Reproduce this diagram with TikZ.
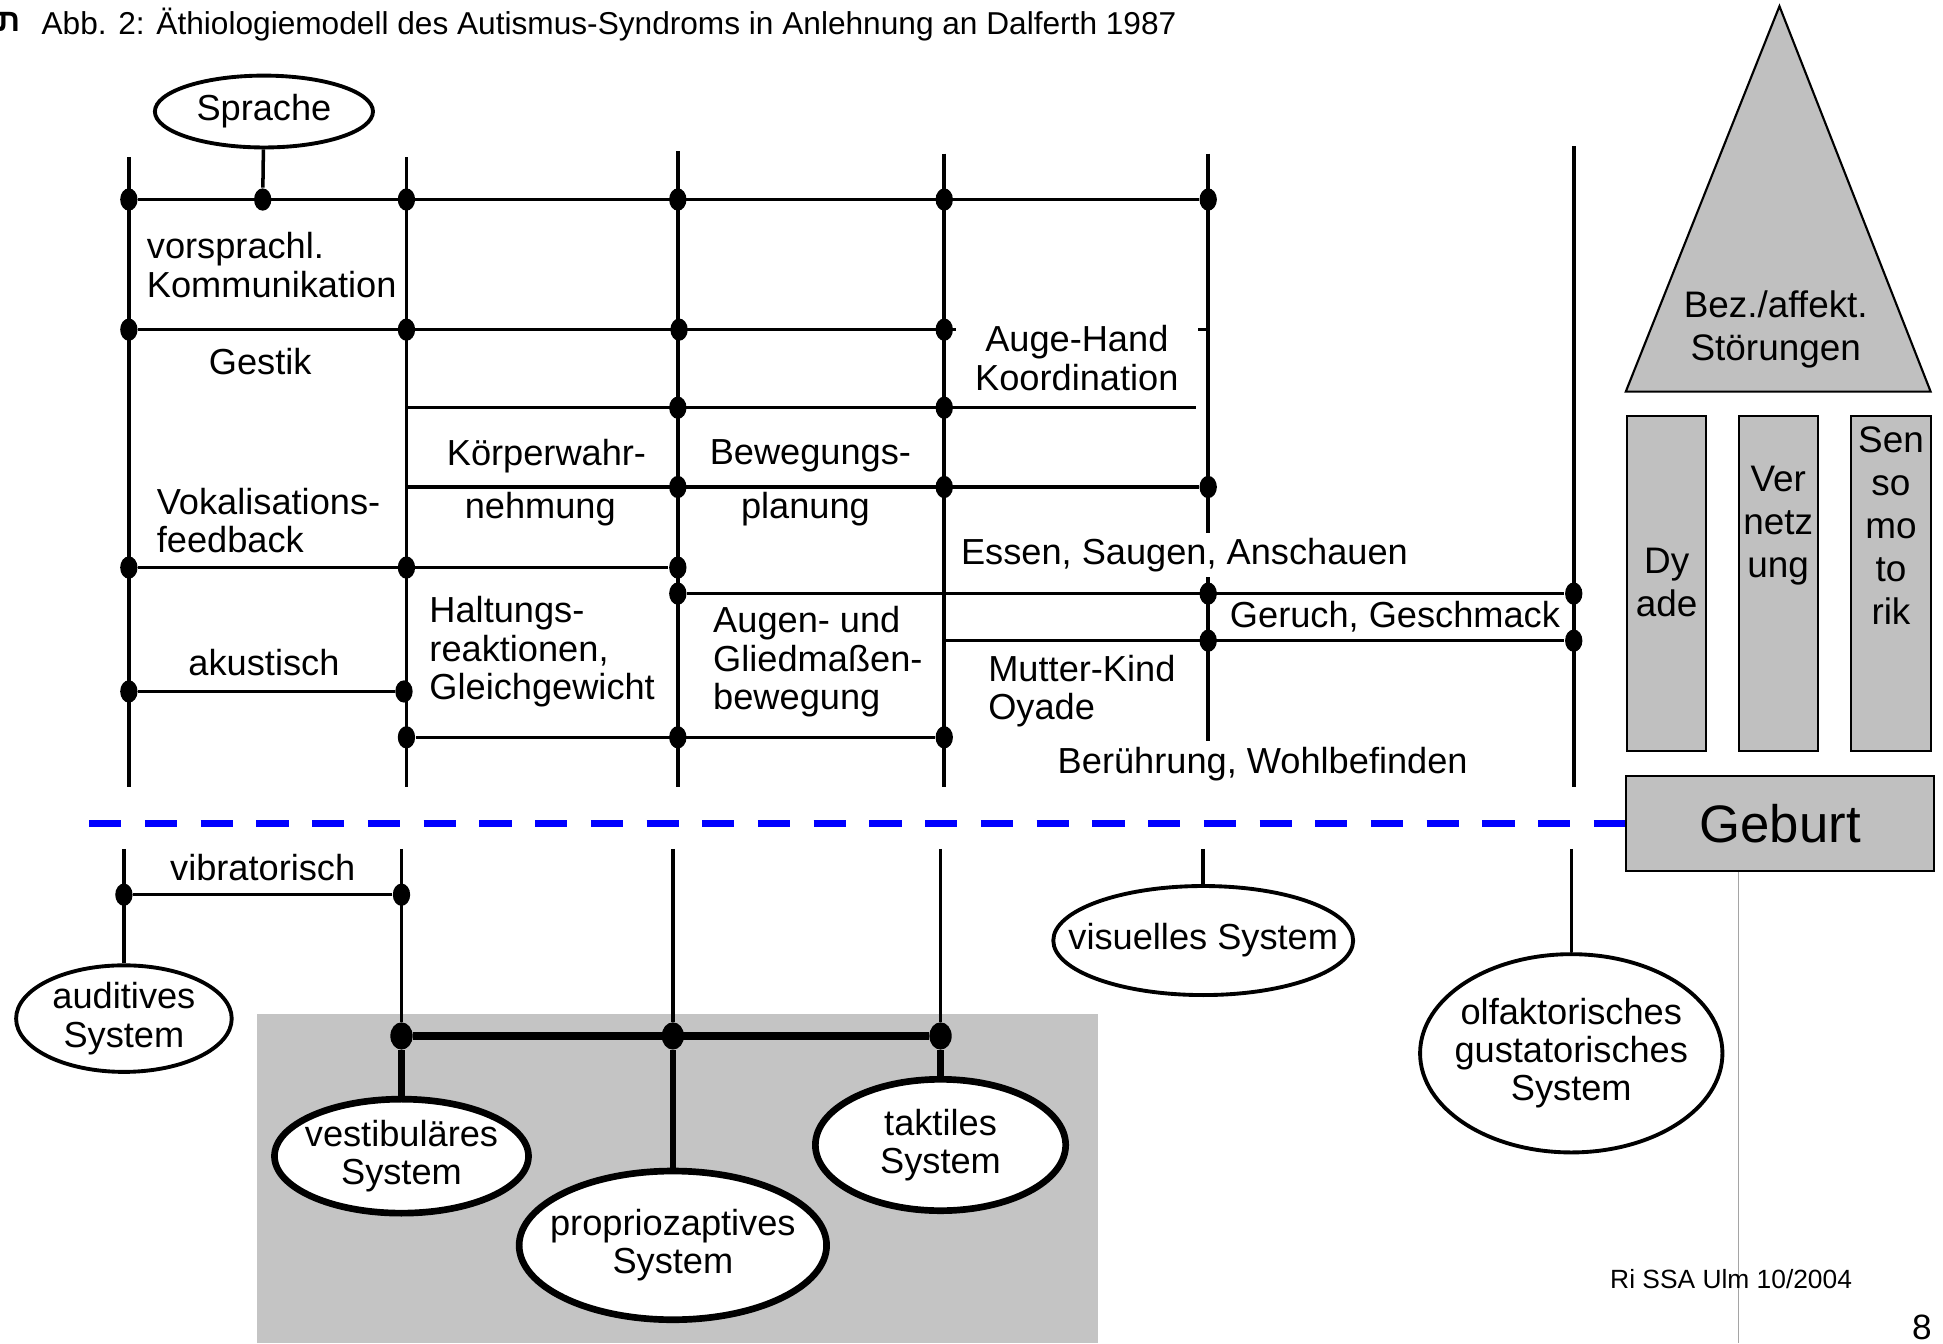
\documentclass[tikz,border=0pt]{standalone}
\usepackage{fontspec}
\setmainfont{Liberation Sans}
\usetikzlibrary{shapes.geometric, positioning}

\newcommand{\unitpx}{0.012392cm}
\newcommand{\scanfont}{\fontsize{10.3}{10.9}\selectfont}
\newcommand{\slidefont}{\fontsize{10.5}{12.2}\selectfont}

\definecolor{housegray}{RGB}{192,192,192}
\definecolor{slideblue}{RGB}{0,0,255}
\definecolor{screengray}{RGB}{196,196,196}
\definecolor{slideline}{RGB}{165,165,165}

\begin{document}
\begin{tikzpicture}[
    x=0.012392cm, y=-0.012392cm,
    % Stile
    strand/.style={line width=1pt},
    trunk/.style={line width=2.2pt},
    junction/.style={
        ellipse,
        fill,
        inner sep=0pt,
        minimum width=14*\unitpx,
        minimum height=18*\unitpx
    },
    sys/.style={
        ellipse,
        draw,
        fill=white,
        line width=1.1pt,
        inner xsep=-4pt,
        inner ysep=-2pt,
        align=center,
        font=\scanfont
    },
    bigsys/.style={sys, line width=1.9pt},
    cell/.style={inner sep=0pt, align=left, font=\scanfont},
    pillar/.style={
        draw,
        fill=housegray,
        line width=0.6pt,
        minimum width=64*\unitpx,
        minimum height=270*\unitpx,
        inner sep=0pt
    },
    slidetext/.style={inner sep=0pt, align=center, font=\slidefont},
    birth/.style={draw=slideblue, line width=2.2pt, dash pattern=on 0.3222cm off 0.235cm}
]
    \useasboundingbox (0,0) rectangle (1568,1084);

    % --- 0. Kopfzeile ---
    \node[inner sep=0pt, font=\bfseries\fontsize{9}{11}\selectfont] (mark) at (7,18) {ת};
    \node[anchor=west, inner sep=0pt, font=\fontsize{9}{11}\selectfont] (title) at (33,20)
        {Abb. 2: Äthiologiemodell des Autismus-Syndroms in Anlehnung an Dalferth 1987};

    % --- 1. Rasterfläche unten ---
    \fill[screengray] (207,818) rectangle (886,1084);

    % --- 2. Knotenpunkte oberhalb der Geburt ---
    \node[junction] (a1) at (104,161) {};
    \node[junction] (s1) at (212,161) {};
    \node[junction] (b1) at (328,161) {};
    \node[junction] (c1) at (547,161) {};
    \node[junction] (d1) at (762,161) {};
    \node[junction] (e1) at (975,161) {};

    \node[junction] (a2) at (104,266) {};
    \node[junction] (b2) at (328,266) {};
    \node[junction] (c2) at (548,266) {};
    \node[junction] (d2) at (762,266) {};

    \node[junction] (c3) at (547,329) {};
    \node[junction] (d3) at (762,329) {};

    \node[junction] (c4) at (547,393) {};
    \node[junction] (d4) at (762,393) {};
    \node[junction] (e4) at (975,393) {};

    \node[junction] (a5) at (104,458) {};
    \node[junction] (b5) at (328,458) {};
    \node[junction] (c5) at (547,458) {};

    \node[junction] (c6) at (547,479) {};
    \node[junction] (e6) at (975,479) {};
    \node[junction] (f6) at (1270,479) {};

    \node[junction] (e7) at (975,517) {};
    \node[junction] (f7) at (1270,517) {};

    \node[junction] (a8) at (104,558) {};
    \node[junction] (b8) at (326,558) {};

    \node[junction] (b9) at (328,595) {};
    \node[junction] (c9) at (547,595) {};
    \node[junction] (d9) at (762,595) {};

    % freie Linienenden
    \coordinate (ta) at (104,127);  \coordinate (ba) at (104,635);
    \coordinate (tb) at (328,127);  \coordinate (bb) at (328,635);
    \coordinate (tc) at (547,122);  \coordinate (bc) at (547,635);
    \coordinate (td) at (762,124);  \coordinate (bd) at (762,635);
    \coordinate (te) at (975,124);  \coordinate (be) at (975,598);
    \coordinate (tf) at (1270,118); \coordinate (bf) at (1270,635);
    \coordinate (e2) at (975,266);
    \coordinate (b3) at (328,329);  \coordinate (e3) at (965,329);
    \coordinate (b4) at (328,393);
    \coordinate (d7) at (762,517);

    % --- 3. Knotenpunkte unterhalb der Geburt ---
    \node[junction] (a10) at (100,722) {};
    \node[junction] (b10) at (324,722) {};
    \node[junction, minimum width=18*\unitpx, minimum height=22*\unitpx] (b11) at (324,836) {};
    \node[junction, minimum width=18*\unitpx, minimum height=22*\unitpx] (c11) at (543,836) {};
    \node[junction, minimum width=18*\unitpx, minimum height=22*\unitpx] (d11) at (759,836) {};

    \coordinate (la) at (100,685);
    \coordinate (lb) at (324,685);
    \coordinate (lc) at (543,685);
    \coordinate (ld) at (759,685);
    \coordinate (le) at (971,685);
    \coordinate (lf) at (1268,685);

    % --- 4. Systeme (Ellipsen) ---
    \node[sys, minimum width=176*\unitpx, minimum height=58*\unitpx] (sprache) at (213,90) {Sprache};
    \node[sys, minimum width=174*\unitpx, minimum height=86*\unitpx] (auditiv) at (100,822) {auditives\\System};
    \node[bigsys, minimum width=205*\unitpx, minimum height=92*\unitpx] (vestib) at (324,933) {vestibuläres\\System};
    \node[bigsys, minimum width=245*\unitpx, minimum height=120*\unitpx] (proprio) at (543,1005) {propriozaptives\\System};
    \node[bigsys, minimum width=202*\unitpx, minimum height=106*\unitpx] (taktil) at (759,924) {taktiles\\System};
    \node[sys, inner xsep=-8.5pt, minimum width=242*\unitpx, minimum height=88*\unitpx] (visuell) at (971,759) {visuelles System};
    \node[sys, minimum width=244*\unitpx, minimum height=160*\unitpx] (olfakt) at (1268,850) {olfaktorisches\\gustatorisches\\System};

    % --- 5. Linien ---
    % senkrecht oben
    \draw[strand] (ta) -- (ba);
    \draw[strand] (tb) -- (bb);
    \draw[strand] (tc) -- (bc);
    \draw[strand] (td) -- (bd);
    \draw[strand] (te) -- (be);
    \draw[strand] (tf) -- (bf);
    % waagerecht oben
    \draw[strand] (sprache) -- (s1);
    \draw[strand] (a1) -- (e1);
    \draw[strand] (a2) -- (e2);
    \draw[strand] (b3) -- (e3);
    \draw[strand] (b4) -- (e4);
    \draw[strand] (a5) -- (c5);
    \draw[strand] (c6) -- (f6);
    \draw[strand] (d7) -- (f7);
    \draw[strand] (a8) -- (b8);
    \draw[strand] (b9) -- (d9);
    % unten
    \draw[strand] (la) -- (auditiv);
    \draw[strand] (a10) -- (b10);
    \draw[strand] (lb) -- (b11);
    \draw[strand] (lc) -- (c11);
    \draw[strand] (ld) -- (d11);
    \draw[trunk] (b11) -- (d11);
    \draw[line width=1.8pt] (b11) -- (vestib);
    \draw[line width=1.8pt] (c11) -- (proprio);
    \draw[line width=1.8pt] (d11) -- (taktil);
    \draw[strand] (le) -- (visuell);
    \draw[strand] (lf) -- (olfakt);

    % --- 6. Beschriftungen im Raster ---
    \node[cell, anchor=west] (vorspr) at (118,214) {vorsprachl.\\Kommunikation};
    \node[cell] (gestik) at (210,292) {Gestik};
    \node[cell, anchor=west] (vokal) at (126,420) {Vokalisations-\\feedback};
    \node[cell] (akust) at (213,535) {akustisch};
    \node[cell] (koerpa) at (441,368) {Körperwahr-};
    \node[cell] (koerpb) at (436,411) {nehmung};
    \node[cell] (bewega) at (654,368) {Bewegungs-};
    \node[cell] (bewegb) at (650,411) {planung};
    \node[cell, align=center, fill=white, inner xsep=5.5pt, inner ysep=1pt] (augehand) at (869,289) {Auge-Hand\\Koordination};
    \node[cell, anchor=west, fill=white, inner ysep=1.5pt] (essen) at (775,448) {Essen, Saugen, Anschauen};
    \node[cell, anchor=west] (haltung) at (346,526) {Haltungs-\\reaktionen,\\Gleichgewicht};
    \node[cell, anchor=west] (augen) at (575,534) {Augen- und\\Gliedmaßen-\\bewegung};
    \node[cell, anchor=west] (geruch) at (992,498) {Geruch, Geschmack};
    \node[cell, anchor=west] (mutter) at (797,558) {Mutter-Kind\\Oyade};
    \node[cell] (beruehr) at (1019,617) {Berührung, Wohlbefinden};
    \node[cell] (vibra) at (212,700) {vibratorisch};

    % --- 7. Haus rechts ---
    \filldraw[fill=housegray, line width=0.6pt] (1312,316) -- (1436,5) -- (1558,316) -- cycle;
    \node[slidetext] (roof) at (1433,266) {Bez./affekt.\\Störungen};
    \node[pillar] (dyade) at (1345,471) {};
    \node[pillar] (netz) at (1435,471) {};
    \node[pillar] (senso) at (1526,471) {};
    \node[slidetext] (dyadetxt) at (1345,470) {Dy\\ade};
    \node[slidetext] (netztxt) at (1435,424) {Ver\\netz\\ung};
    \node[slidetext] (sensotxt) at (1526,424) {Sen\\so\\mo\\to\\rik};
    \node[draw, fill=housegray, line width=0.6pt, minimum width=249*\unitpx, minimum height=77*\unitpx,
          inner sep=0pt, font=\fontsize{15}{18}\selectfont] (geburt) at (1436.5,664.5) {Geburt};

    % Geburtslinie
    \coordinate (dashstart) at (72,664.5);
    \draw[birth] (dashstart) -- (geburt.west);

    % --- 8. Fußzeile ---
    \coordinate (glend) at (1403,1084);
    \draw[slideline, line width=0.5pt] (geburt.south -| glend) -- (glend);
    \node[inner sep=0pt, font=\fontsize{7.5}{9}\selectfont] (footer) at (1397,1032) {Ri SSA Ulm 10/2004};
    \node[inner sep=0pt, font=\fontsize{10}{12}\selectfont] (pagenum) at (1551,1071) {8};

\end{tikzpicture}
\end{document}
